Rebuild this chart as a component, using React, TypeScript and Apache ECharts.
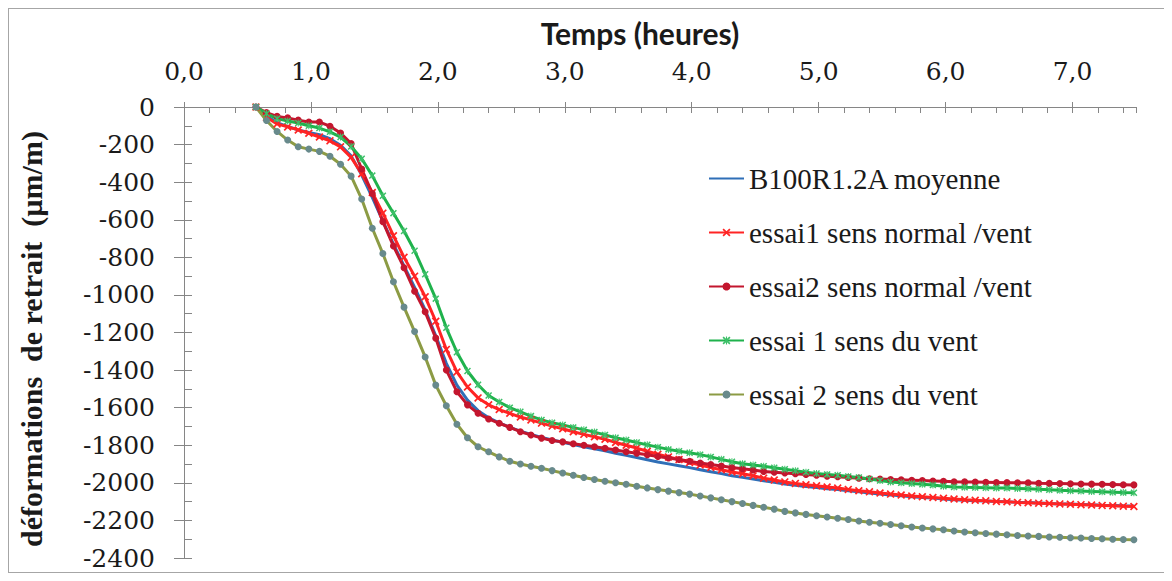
import React, { useEffect, useRef } from "react";
import * as echarts from "echarts";

// Sampling times (minutes)
const timeMinutes = [
  34, 39, 44, 49, 54, 59, 64, 69, 74, 79, 84, 89, 94, 99, 104, 109, 114, 119, 124, 129,
  134, 139, 144, 149, 154, 159, 164, 169, 174, 179, 184, 189, 194, 199, 204, 209, 214, 219, 224, 229,
  234, 239, 244, 249, 254, 259, 264, 269, 274, 279, 284, 289, 294, 299, 304, 309, 314, 319, 324, 329,
  334, 339, 344, 349, 354, 359, 364, 369, 374, 379, 384, 389, 394, 399, 404, 409, 414, 419, 424, 429,
  434, 439, 444, 449,
];

const moyenne = [
  0, -48, -83, -104, -122, -136, -147, -169, -204, -260,
  -362, -481, -607, -730, -845, -960, -1080, -1218, -1364, -1480,
  -1560, -1616, -1654, -1681, -1705, -1725, -1742, -1758, -1772, -1784,
  -1796, -1808, -1819, -1830, -1843, -1854, -1865, -1877, -1889, -1899,
  -1909, -1919, -1930, -1941, -1951, -1962, -1971, -1980, -1989, -1997,
  -2006, -2013, -2020, -2025, -2031, -2036, -2042, -2048, -2054, -2059,
  -2065, -2069, -2074, -2078, -2081, -2086, -2090, -2093, -2095, -2097,
  -2099, -2101, -2104, -2105, -2107, -2110, -2112, -2113, -2115, -2117,
  -2119, -2120, -2122, -2123,
];

const essai1Normal = [
  0, -55, -90, -106, -122, -140, -160, -180, -212, -268,
  -355, -455, -565, -685, -800, -900, -1010, -1140, -1290, -1410,
  -1490, -1548, -1585, -1610, -1630, -1650, -1665, -1682, -1698, -1712,
  -1728, -1742, -1755, -1768, -1785, -1800, -1815, -1832, -1848, -1862,
  -1876, -1892, -1905, -1918, -1930, -1942, -1952, -1962, -1975, -1985,
  -1995, -2003, -2010, -2016, -2022, -2028, -2035, -2042, -2048, -2054,
  -2060, -2065, -2070, -2074, -2078, -2082, -2086, -2090, -2093, -2096,
  -2099, -2101, -2104, -2106, -2108, -2110, -2112, -2114, -2116, -2118,
  -2120, -2122, -2124, -2126,
];

const essai2Normal = [
  0, -30, -50, -58, -70, -80, -80, -102, -138, -195,
  -330, -460, -610, -740, -855, -980, -1090, -1230, -1400, -1515,
  -1585, -1630, -1660, -1683, -1705, -1728, -1745, -1762, -1775, -1782,
  -1792, -1800, -1808, -1816, -1825, -1835, -1843, -1851, -1860, -1868,
  -1876, -1885, -1895, -1902, -1910, -1918, -1925, -1932, -1940, -1944,
  -1948, -1952, -1956, -1960, -1965, -1968, -1972, -1975, -1978, -1980,
  -1982, -1984, -1986, -1988, -1990, -1992, -1994, -1995, -1996, -1997,
  -1998, -1999, -2000, -2000, -2002, -2003, -2004, -2005, -2006, -2007,
  -2008, -2009, -2010, -2011,
];

const essai1Vent = [
  0, -35, -62, -75, -85, -100, -112, -132, -160, -210,
  -275, -365, -472, -565, -660, -765, -890, -1020, -1175, -1305,
  -1405, -1478, -1535, -1570, -1600, -1622, -1645, -1665, -1680, -1692,
  -1705, -1718, -1730, -1745, -1760, -1772, -1785, -1798, -1810, -1822,
  -1832, -1840, -1850, -1862, -1875, -1888, -1898, -1905, -1912, -1920,
  -1928, -1936, -1944, -1950, -1955, -1960, -1966, -1972, -1980, -1988,
  -1995, -2000, -2004, -2008, -2012, -2018, -2022, -2024, -2025, -2026,
  -2027, -2028, -2030, -2032, -2034, -2037, -2040, -2042, -2044, -2046,
  -2048, -2050, -2052, -2053,
];

const essai2Vent = [
  0, -72, -130, -176, -212, -224, -236, -262, -305, -368,
  -490, -645, -780, -930, -1065, -1195, -1330, -1480, -1590, -1688,
  -1760, -1808, -1835, -1862, -1885, -1900, -1912, -1922, -1935, -1948,
  -1960, -1972, -1982, -1992, -2000, -2008, -2018, -2027, -2036, -2044,
  -2052, -2060, -2070, -2080, -2090, -2100, -2110, -2120, -2130, -2140,
  -2152, -2160, -2168, -2175, -2182, -2188, -2195, -2203, -2210, -2215,
  -2222, -2228, -2235, -2240, -2245, -2250, -2256, -2262, -2266, -2270,
  -2273, -2276, -2280, -2283, -2285, -2288, -2290, -2292, -2294, -2296,
  -2298, -2300, -2302, -2303,
];

const seriesNames = [
  "B100R1.2A moyenne",
  "essai1 sens normal /vent",
  "essai2 sens normal /vent",
  "essai 1 sens du vent",
  "essai 2 sens du vent",
];

const xTickValues = [0, 1, 2, 3, 4, 5, 6, 7];

const SERIF = "'Liberation Serif', 'Times New Roman', serif";
const TICK_FONT = "DejaVu Serif";
const AXIS_GRAY = "#868686";

const X_SYMBOL =
  "path://M0,1.5L1.5,0L5,3.5L8.5,0L10,1.5L6.5,5L10,8.5L8.5,10L5,6.5L1.5,10L0,8.5L3.5,5Z";
const STAR_SYMBOL =
  "path://M0,1.5L1.5,0L5,3.5L8.5,0L10,1.5L6.5,5L10,8.5L8.5,10L5,6.5L1.5,10L0,8.5L3.5,5Z M4.3,0L5.7,0L5.7,10L4.3,10Z";

const toPairs = (vals: number[]) => timeMinutes.map((m, i) => [m / 60, vals[i]]);

export default function App() {
  const ref = useRef<HTMLDivElement>(null);

  useEffect(() => {
    if (!ref.current) return;
    const chart = echarts.init(ref.current, undefined, { renderer: "svg" });

    const tickLine = { color: AXIS_GRAY, width: 1 };

    const option: any = {
      animation: false,
      backgroundColor: "#ffffff",
      textStyle: { fontFamily: SERIF },
      grid: { left: 175, top: 98, right: 28, bottom: 14, containLabel: false },
      xAxis: [
        {
          type: "value",
          position: "top",
          min: 0,
          max: 7.5,
          interval: 1,
          axisLine: { show: true, onZero: false, lineStyle: { color: AXIS_GRAY, width: 1 } },
          axisTick: { show: true, inside: false, length: 5, lineStyle: tickLine, customValues: xTickValues },
          splitLine: { show: false },
          axisLabel: {
            show: true,
            margin: 23,
            fontSize: 25,
            fontFamily: TICK_FONT,
            fontStyle: "normal",
            color: "#1a1a1a",
            customValues: xTickValues,
            formatter: (v: number) => (v > 7.01 ? "" : v.toFixed(1).replace(".", ",")),
          },
        },
        {
          type: "value",
          position: "bottom",
          offset: -451,
          min: 0,
          max: 7.5,
          interval: 0.2,
          axisLine: { show: false, onZero: false },
          axisLabel: { show: false },
          axisTick: { show: true, inside: false, length: 6, lineStyle: tickLine },
          splitLine: { show: false },
        },
      ],
      yAxis: [
        {
          type: "value",
          position: "left",
          min: -2400,
          max: 0,
          interval: 200,
          axisLine: { show: true, onZero: false, lineStyle: { color: AXIS_GRAY, width: 1 } },
          axisTick: { show: true, inside: false, length: 10, lineStyle: tickLine },
          splitLine: { show: false },
          axisLabel: {
            show: true,
            margin: 29,
            fontSize: 25,
            fontFamily: TICK_FONT,
            fontStyle: "normal",
            color: "#1a1a1a",
            formatter: (v: number) => String(v),
          },
        },
        {
          type: "value",
          position: "right",
          offset: -952,
          min: -2400,
          max: 0,
          interval: 100,
          axisLine: { show: false, onZero: false },
          axisLabel: { show: false },
          axisTick: { show: true, inside: false, length: 8, lineStyle: tickLine },
          splitLine: { show: false },
        },
      ],
      legend: {
        orient: "vertical",
        left: 699,
        top: 155,
        itemWidth: 35,
        itemHeight: 10,
        itemGap: 25,
        padding: 0,
        data: [
          { name: seriesNames[0], itemStyle: { color: "rgba(0,0,0,0)", opacity: 0, borderWidth: 0 } },
          seriesNames[1],
          seriesNames[2],
          seriesNames[3],
          seriesNames[4],
        ],
        textStyle: { fontSize: 29, fontFamily: SERIF, color: "#1a1a1a" },
      },
      graphic: [
        {
          type: "text",
          x: 631,
          y: 24,
          silent: true,
          style: {
            text: "Temps (heures)",
            font: "bold 30px Lato",
            fill: "#1a1a1a",
            textAlign: "center",
            textVerticalAlign: "middle",
            align: "center",
            verticalAlign: "middle",
          },
        },
        {
          type: "text",
          x: 22,
          y: 330,
          rotation: Math.PI / 2,
          silent: true,
          style: {
            text: "déformations  de retrait  (µm/m)",
            font: "bold 30px 'Liberation Serif', serif",
            fill: "#1a1a1a",
            textAlign: "center",
            textVerticalAlign: "middle",
            align: "center",
            verticalAlign: "middle",
          },
        },
      ],
      series: [
        {
          name: seriesNames[0],
          type: "line",
          data: toPairs(moyenne),
          xAxisIndex: 0,
          yAxisIndex: 0,
          symbol: "none",
          lineStyle: { color: "#2f6fb7", width: 3 },
          itemStyle: { color: "#2f6fb7" },
        },
        {
          name: seriesNames[1],
          type: "line",
          data: toPairs(essai1Normal),
          xAxisIndex: 0,
          yAxisIndex: 0,
          symbol: X_SYMBOL,
          symbolSize: 8,
          lineStyle: { color: "#ff2424", width: 3 },
          itemStyle: { color: "#ff2424" },
        },
        {
          name: seriesNames[2],
          type: "line",
          data: toPairs(essai2Normal),
          xAxisIndex: 0,
          yAxisIndex: 0,
          symbol: "circle",
          symbolSize: 7,
          lineStyle: { color: "#c3162e", width: 3 },
          itemStyle: { color: "#c3162e" },
        },
        {
          name: seriesNames[3],
          type: "line",
          data: toPairs(essai1Vent),
          xAxisIndex: 0,
          yAxisIndex: 0,
          symbol: STAR_SYMBOL,
          symbolSize: 7,
          lineStyle: { color: "#1fb24c", width: 3 },
          itemStyle: { color: "#3cc068" },
        },
        {
          name: seriesNames[4],
          type: "line",
          data: toPairs(essai2Vent),
          xAxisIndex: 0,
          yAxisIndex: 0,
          symbol: "circle",
          symbolSize: 7,
          lineStyle: { color: "#8c9b44", width: 3 },
          itemStyle: { color: "#688a8c" },
        },
      ],
    };

    chart.setOption(option);
    return () => {
      chart.dispose();
    };
  }, []);

  return (
    <div
      ref={ref}
      style={{
        width: 1157,
        height: 565,
        border: "1px solid #a6a6a6",
        boxSizing: "border-box",
        background: "#ffffff",
      }}
    />
  );
}
